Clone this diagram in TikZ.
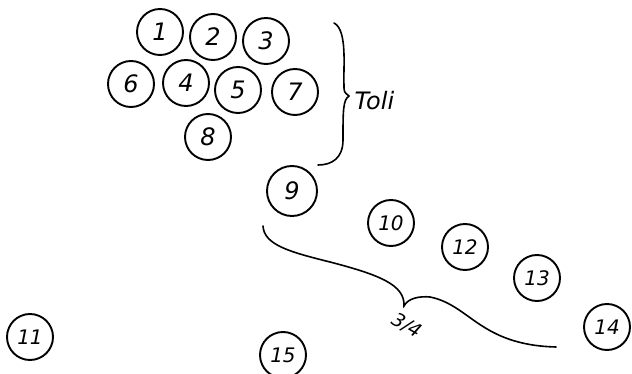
\documentclass[tikz,border=0pt]{standalone}
\usepackage{fontspec}
\setmainfont{DejaVu Sans}
\begin{document}
\begin{tikzpicture}[x=1pt,y=-1pt,
  num/.style={draw,circle,line width=1.9pt,minimum size=46pt,inner sep=0pt,font=\fontsize{24}{24}\selectfont\itshape},
  brace/.style={line width=1.6pt,line cap=round}]
\useasboundingbox (0,0) rectangle (632,374);
\node[num] (n1) at (160,32) {1};
\node[num] (n2) at (213,37) {2};
\node[num] (n3) at (266,41) {3};
\node[num] (n6) at (131,84) {6};
\node[num] (n4) at (186,83) {4};
\node[num] (n5) at (238,90) {5};
\node[num] (n7) at (295,92) {7};
\node[num] (n8) at (208,137) {8};
\node[num,minimum size=50pt] (n9) at (292,191) {9};
\node[num,font=\fontsize{20}{20}\selectfont\itshape] (n10) at (391,223) {10};
\node[num,font=\fontsize{20}{20}\selectfont\itshape] (n12) at (465,247) {12};
\node[num,font=\fontsize{20}{20}\selectfont\itshape] (n13) at (537,278) {13};
\node[num,font=\fontsize{20}{20}\selectfont\itshape] (n14) at (607,327) {14};
\node[num,font=\fontsize{20}{20}\selectfont\itshape] (n11) at (30,337) {11};
\node[num,font=\fontsize{20}{20}\selectfont\itshape] (n15) at (283,355) {15};
% vertical brace
\coordinate (vbt) at (334,23);
\coordinate (vbm) at (349,96);
\coordinate (vbb) at (318,165);
\draw[brace] (vbt) .. controls (348,30) and (343,70) .. (344,85)
  .. controls (344,92) .. (vbm)
  .. controls (343,100) and (343,110) .. (343,140)
  .. controls (343,158) and (332,165) .. (vbb);
\node[font=\fontsize{24}{24}\selectfont\itshape,anchor=west] (toli) at (351,101) {Toli};
% horizontal brace
\coordinate (hbs) at (263,226);
\coordinate (hbt) at (404,306);
\coordinate (hbe) at (556,347);
\draw[brace] (hbs) .. controls (264,245) and (290,252) .. (330,262)
  .. controls (380,275) and (405,285) .. (hbt)
  .. controls (408,298) and (420,296) .. (430,297)
  .. controls (470,305) and (480,345) .. (hbe);
\node[font=\fontsize{19}{19}\selectfont\itshape,rotate=-30,inner sep=0pt] (frac) at (407,326) {3/4};
\end{tikzpicture}
\end{document}
